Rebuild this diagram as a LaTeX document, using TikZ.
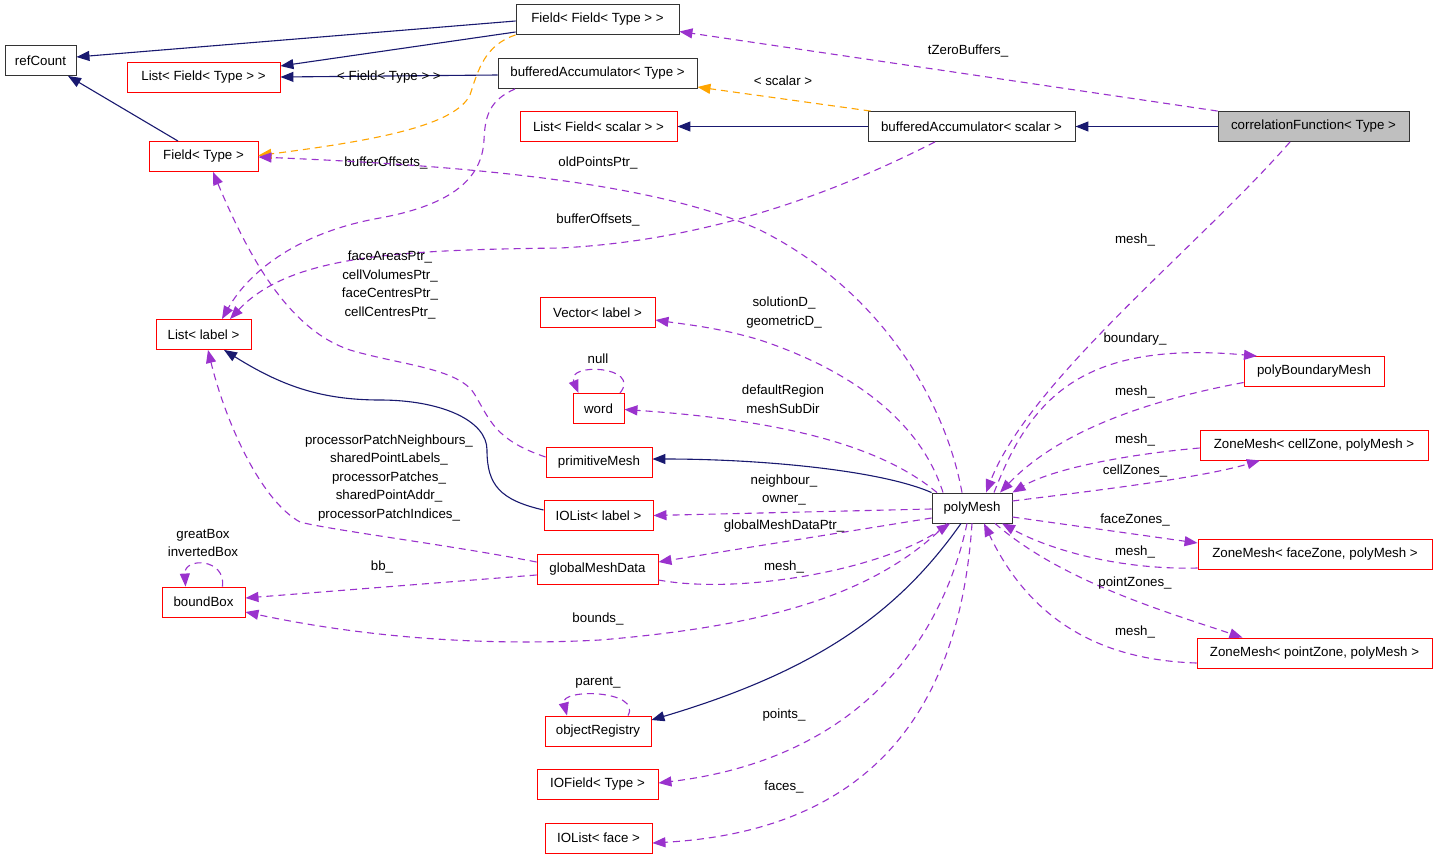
\documentclass[tikz,border=0pt]{standalone}
\usepackage{fontspec}
\setmainfont{Liberation Sans}
\usetikzlibrary{arrows.meta}
\definecolor{navyc}{HTML}{191970}
\definecolor{purpc}{HTML}{9A32CD}
\definecolor{orngc}{HTML}{FFA500}
\definecolor{redc}{HTML}{FF0000}
\definecolor{grayc}{HTML}{BFBFBF}
\begin{document}
\begin{tikzpicture}[x=1pt,y=-1pt,
  txt/.style={font=\fontsize{13.3}{18.5}\selectfont},
  box/.style={txt, draw=black!80, line width=0.9pt, minimum height=30pt, inner sep=0pt, fill=white},
  rbox/.style={box, draw=redc},
  lab/.style={txt, inner sep=0pt, align=center},
  tip/.style={-{Triangle[length=13pt,width=10pt]}},
  inh/.style={tip, draw=navyc, line width=1.1pt},
  usee/.style={tip, draw=purpc, line width=1.1pt, dash pattern=on 7pt off 5pt},
  tmpl/.style={tip, draw=orngc, line width=1.1pt, dash pattern=on 7pt off 5pt}]
\useasboundingbox[fill=white] (0,0) rectangle (1437,859);

% nodes
\node[box, minimum width=71pt] (refCount) at (40.5,60.5) {refCount};
\node[box, minimum width=163pt] (fieldField) at (597.5,19.5) {Field< Field< Type > >};
\node[rbox, minimum width=153pt] (listFieldType) at (203.5,77.5) {List< Field< Type > >};
\node[box, minimum width=199pt] (bufAccType) at (597.5,73.5) {bufferedAccumulator< Type >};
\node[rbox, minimum width=157pt] (listFieldScalar) at (598.5,126.5) {List< Field< scalar > >};
\node[box, minimum width=207pt] (bufAccScalar) at (971.5,126.5) {bufferedAccumulator< scalar >};
\node[box, fill=grayc, minimum width=191pt] (corrFunc) at (1313.5,126.5) {correlationFunction< Type >};
\node[rbox, minimum width=109pt] (fieldType) at (203.5,156.5) {Field< Type >};
\node[rbox, minimum width=95pt] (listLabel) at (203.5,334.5) {List< label >};
\node[rbox, minimum width=115pt] (vectorLabel) at (597.5,312.5) {Vector< label >};
\node[rbox, minimum width=51pt] (word) at (598.5,408.5) {word};
\node[rbox, minimum width=106pt] (primitiveMesh) at (599,462) {primitiveMesh};
\node[rbox, minimum width=109pt] (ioListLabel) at (598.5,515.5) {IOList< label >};
\node[rbox, minimum width=121pt] (globalMeshData) at (597.5,569) {globalMeshData};
\node[rbox, minimum width=83pt] (boundBox) at (203.5,602) {boundBox};
\node[rbox, minimum width=106pt] (objectRegistry) at (598,731) {objectRegistry};
\node[rbox, minimum width=121pt] (ioFieldType) at (597.5,784.5) {IOField< Type >};
\node[rbox, minimum width=107pt] (ioListFace) at (598.5,838) {IOList< face >};
\node[box, minimum width=80pt] (polyMesh) at (972,508) {polyMesh};
\node[rbox, minimum width=140pt] (polyBoundaryMesh) at (1314,371.5) {polyBoundaryMesh};
\node[rbox, minimum width=228pt] (zmCell) at (1314,445) {ZoneMesh< cellZone, polyMesh >};
\node[rbox, minimum width=234pt] (zmFace) at (1315,554) {ZoneMesh< faceZone, polyMesh >};
\node[rbox, minimum width=235pt] (zmPoint) at (1314.5,653) {ZoneMesh< pointZone, polyMesh >};

% inheritance (solid navy)
\draw[inh] ([yshift=-1.5pt]fieldField.west) -- ([yshift=3.5pt]refCount.east);
\draw[inh] ([yshift=-12.5pt]fieldField.west) -- ([yshift=11.5pt]listFieldType.east);
\draw[inh] ([yshift=-1.5pt]bufAccType.west) -- ([yshift=0.5pt]listFieldType.east);
\draw[inh] ([xshift=-25.5pt]fieldType.north) -- ([xshift=27.5pt]refCount.south);
\draw[inh] (bufAccScalar.west) -- (listFieldScalar.east);
\draw[inh] (corrFunc.west) -- (bufAccScalar.east);
\draw[inh] (polyMesh.north west) .. controls (880,470) and (760,459) .. ([yshift=3pt]primitiveMesh.east);
\draw[inh] ([yshift=5.5pt]ioListLabel.west) .. controls (500,500) and (487,485) .. (487,450)
   .. controls (487,420) and (440,400) .. (380,400)
   .. controls (320,400) and (280,385) .. ([xshift=20.5pt]listLabel.south);
\draw[inh] ([xshift=-11pt]polyMesh.south) .. controls (900,610) and (820,670) .. ([yshift=11pt]objectRegistry.east);

% template instances (orange)
\draw[tmpl] (fieldField.south west) .. controls (485,45) and (478,70) .. (470,95)
   .. controls (455,125) and (380,140) .. ([yshift=1pt]fieldType.east);
\node[lab] (tl1) at (389,77) {< Field< Type > >};
\draw[tmpl] ([xshift=-101pt]bufAccScalar.north) -- ([yshift=-13.5pt]bufAccType.east);
\node[lab] (tl2) at (783,81) {< scalar >};

% usage (dashed purple)
\draw[usee] (corrFunc.north west) -- ([yshift=-12pt]fieldField.east);
\node[lab] (l1) at (968,51) {tZeroBuffers\_};

\draw[usee] ([xshift=-82.5pt]bufAccType.south) .. controls (490,100) and (485,115) .. (484,140)
   .. controls (482,180) and (450,205) .. (380,218)
   .. controls (300,232) and (250,270) .. ([xshift=18.5pt]listLabel.north);
\node[lab] (l2) at (386,163) {bufferOffsets\_};

\draw[usee] ([xshift=-36.5pt]bufAccScalar.south) .. controls (850,185) and (720,240) .. (560,248)
   .. controls (400,250) and (290,255) .. ([xshift=26.5pt]listLabel.north);
\node[lab] (l3) at (598,220) {bufferOffsets\_};

\draw[usee] ([xshift=-23.5pt]corrFunc.south) .. controls (1200,245) and (1030,380) .. ([xshift=14pt]polyMesh.north);
\node[lab] (l4) at (1135,240) {mesh\_};

\draw[usee] ([xshift=-10pt]polyMesh.north) .. controls (945,400) and (880,290) .. (760,230)
   .. controls (650,180) and (450,165) .. ([yshift=-0.5pt]fieldType.east);
\node[lab] (l5) at (598,163) {oldPointsPtr\_};

\draw[usee] ([yshift=5pt]primitiveMesh.west) .. controls (495,440) and (490,420) .. (475,395)
   .. controls (460,368) and (400,365) .. (350,350)
   .. controls (290,330) and (250,260) .. ([xshift=9.5pt]fieldType.south);
\node[lab] (l6) at (390,285) {faceAreasPtr\_\\cellVolumesPtr\_\\faceCentresPtr\_\\cellCentresPtr\_};

\draw[usee] ([yshift=7pt]globalMeshData.west) .. controls (450,545) and (330,530) .. (300,522)
   .. controls (260,500) and (225,420) .. ([xshift=4.5pt]listLabel.south);
\node[lab] (l7) at (389,478) {processorPatchNeighbours\_\\sharedPointLabels\_\\processorPatches\_\\sharedPointAddr\_\\processorPatchIndices\_};

\draw[usee] ([yshift=-6pt]globalMeshData.west) -- ([yshift=4pt]boundBox.east);
\node[lab] (l8) at (382,567) {bb\_};

\draw[usee] ([xshift=19pt]boundBox.north) .. controls (226,558) and (184,557) .. ([xshift=-18pt]boundBox.north);
\node[lab] (l9) at (203,543) {greatBox\\invertedBox};

\draw[usee] ([xshift=-25pt]polyMesh.south) .. controls (880,590) and (780,625) .. (600,640)
   .. controls (450,648) and (330,630) .. ([yshift=-10pt]boundBox.east);
\node[lab] (l10) at (598,619) {bounds\_};

\draw[usee] ([xshift=-29pt]polyMesh.north) .. controls (920,420) and (850,370) .. (760,340)
   .. controls (720,328) and (690,325) .. ([yshift=-7.5pt]vectorLabel.east);
\node[lab] (l11) at (784,312.5) {solutionD\_\\geometricD\_};

\draw[usee] ([xshift=-35pt]polyMesh.north) .. controls (880,445) and (780,420) .. ([yshift=-1pt]word.east);
\node[lab] (l12) at (783,399) {defaultRegion\\meshSubDir};

\draw[usee] ([xshift=21.5pt]word.north) .. controls (642,366) and (566,362) .. ([xshift=-20pt]word.north);
\node[lab] (l13) at (598,359) {null};

\draw[usee] ([yshift=-1pt]polyMesh.west) -- (ioListLabel.east);
\node[lab] (l14) at (784,490) {neighbour\_\\owner\_};

\draw[usee] ([yshift=-10pt]polyMesh.west) -- ([yshift=7pt]globalMeshData.east);
\node[lab] (l15) at (784,526) {globalMeshDataPtr\_};

\draw[usee] ([yshift=-11pt]globalMeshData.east) .. controls (740,595) and (880,570) .. ([xshift=-22pt]polyMesh.south);
\node[lab] (l16) at (784,567) {mesh\_};

\draw[usee] ([xshift=-5pt]polyMesh.south) .. controls (940,650) and (850,760) .. ([yshift=1.5pt]ioFieldType.east);
\node[lab] (l17) at (784,715) {points\_};

\draw[usee] (polyMesh.south) .. controls (960,700) and (880,830) .. ([yshift=-5pt]ioListFace.east);
\node[lab] (l18) at (784,787) {faces\_};

\draw[usee] ([xshift=30pt]objectRegistry.north) .. controls (642,690) and (560,688) .. ([xshift=-31pt]objectRegistry.north);
\node[lab] (l19) at (598,683) {parent\_};

\draw[usee] ([xshift=22pt]polyMesh.north) .. controls (1030,400) and (1080,340) .. ([xshift=-57pt]polyBoundaryMesh.north);
\node[lab] (l20) at (1135,339) {boundary\_};

\draw[usee] ([yshift=-11pt]polyBoundaryMesh.west) .. controls (1150,400) and (1060,430) .. ([xshift=28pt]polyMesh.north);
\node[lab] (l21) at (1135,392) {mesh\_};

\draw[usee] ([yshift=-3pt]zmCell.west) .. controls (1120,455) and (1050,470) .. (polyMesh.north east);
\node[lab] (l22) at (1135,440) {mesh\_};

\draw[usee] ([yshift=7pt]polyMesh.east) .. controls (1100,490) and (1200,478) .. ([xshift=-54pt]zmCell.south);
\node[lab] (l23) at (1135,471) {cellZones\_};

\draw[usee] ([yshift=-9pt]polyMesh.east) -- ([yshift=11pt]zmFace.west);
\node[lab] (l24) at (1135,520) {faceZones\_};

\draw[usee] ([yshift=-14pt]zmFace.west) .. controls (1120,570) and (1050,550) .. ([xshift=30pt]polyMesh.south);
\node[lab] (l25) at (1135,552) {mesh\_};

\draw[usee] ([xshift=23pt]polyMesh.south) .. controls (1060,580) and (1160,610) .. ([xshift=-72pt]zmPoint.north);
\node[lab] (l26) at (1135,583) {pointZones\_};

\draw[usee] ([yshift=-10pt]zmPoint.west) .. controls (1100,660) and (1030,620) .. ([xshift=12pt]polyMesh.south);
\node[lab] (l27) at (1135,632) {mesh\_};
\end{tikzpicture}
\end{document}
